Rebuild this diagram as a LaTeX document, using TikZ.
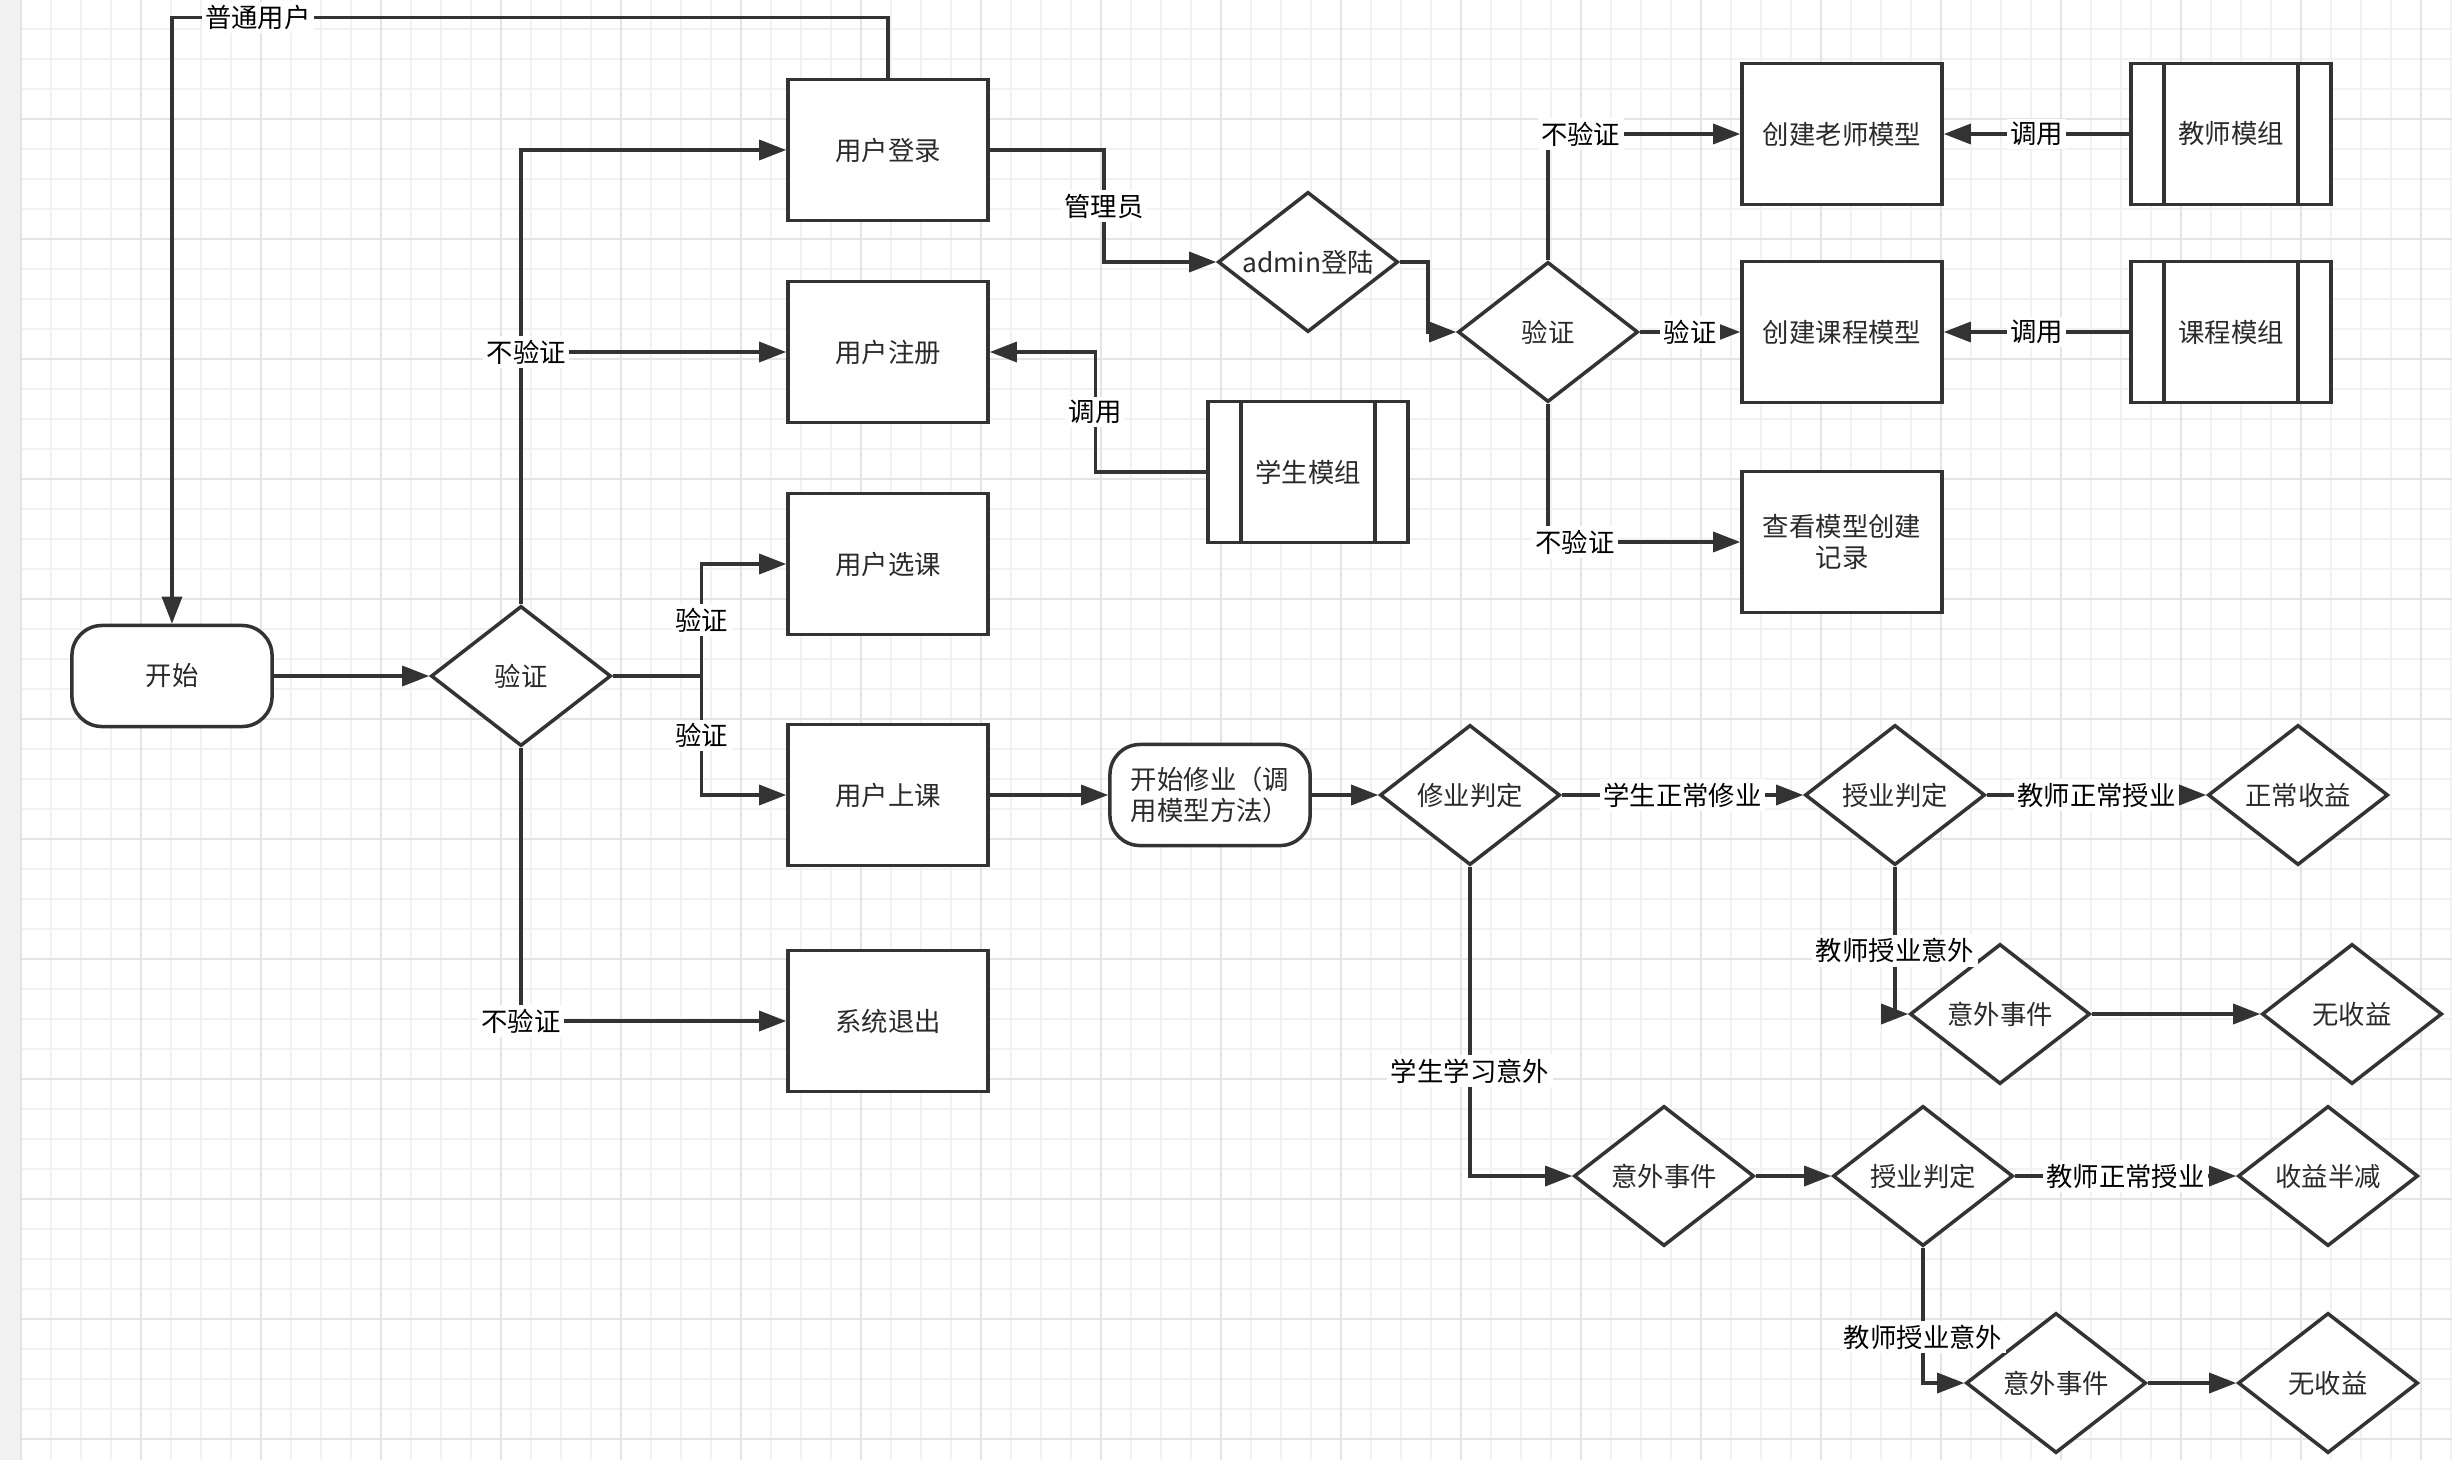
\documentclass[tikz,border=0pt]{standalone}
\usepackage{fontspec}
\newfontfamily\cjkfont{Noto Sans CJK SC}
\usepackage{tikz}
\usetikzlibrary{arrows.meta,shapes.geometric}
\definecolor{FlowInk}{HTML}{333333}
\definecolor{FlowText}{HTML}{2A2A2A}
\definecolor{GridMinor}{HTML}{F2F2F2}
\definecolor{GridMajor}{HTML}{E4E4E4}
\definecolor{PageStrip}{HTML}{F1F1F1}
\tikzset{
  figtext/.style={font={\cjkfont\fontsize{7.5}{8.8}\selectfont}, text=FlowText},
  flowbox/.style={draw=FlowInk, line width=1pt, fill=white, minimum width=2cm, minimum height=1.41cm, inner sep=1pt, align=center},
  termbox/.style={flowbox, rounded corners=0.3cm, minimum height=1.01cm},
  modbox/.style={flowbox, path picture={
    \draw[FlowInk, line width=1pt] ([xshift=0.33cm]path picture bounding box.north west) -- ([xshift=0.33cm]path picture bounding box.south west)
      ([xshift=-0.33cm]path picture bounding box.north east) -- ([xshift=-0.33cm]path picture bounding box.south east);}},
  choice/.style={diamond, aspect=1.3, draw=FlowInk, line width=1pt, fill=white, minimum width=1.8cm, minimum height=1.4cm, inner sep=1pt},
  flowarrow/.style={-{Triangle[length=0.27cm,width=0.2cm]}, line width=0.95pt, draw=FlowInk},
  edgetag/.style={fill=white, inner sep=1pt, text=black},
  gridminor/.style={draw=GridMinor, line width=0.6pt},
  gridmajor/.style={draw=GridMajor, line width=0.8pt}
}
\begin{document}
\begin{tikzpicture}[x=0.01cm, y=-0.01cm, every node/.style={figtext}]
\useasboundingbox (0,0) rectangle (2452,1460);
\fill[white] (0,0) rectangle (2452,1460);
\foreach \gx in {21,51,...,2451} \draw[gridminor] (\gx,0) -- (\gx,1460);
\foreach \gy in {29,59,...,1459} \draw[gridminor] (20,\gy) -- (2452,\gy);
\foreach \gx in {21,141,...,2421} \draw[gridmajor] (\gx,0) -- (\gx,1460);
\foreach \gy in {119,239,...,1439} \draw[gridmajor] (20,\gy) -- (2452,\gy);
\fill[PageStrip] (0,0) rectangle (20,1460);

\node[termbox] (start) at (172,676) {开始};
\node[choice] (chk) at (521,676) {验证};
\node[flowbox] (login) at (888,150) {用户登录};
\node[flowbox] (reg) at (888,352) {用户注册};
\node[flowbox] (sel) at (888,564) {用户选课};
\node[flowbox] (class) at (888,795) {用户上课};
\node[flowbox] (quit) at (888,1021) {系统退出};
\node[choice] (admin) at (1308,262) {admin登陆};
\node[modbox] (smod) at (1308,472) {学生模组};
\node[choice] (chk2) at (1548,332) {验证};
\node[flowbox] (tch) at (1842,134) {创建老师模型};
\node[flowbox] (crs) at (1842,332) {创建课程模型};
\node[flowbox] (rec) at (1842,542) {查看模型创建\\记录};
\node[modbox] (tmod) at (2231,134) {教师模组};
\node[modbox] (cmod) at (2231,332) {课程模组};
\node[termbox] (study) at (1210,795) {开始修业（调\\用模型方法）};
\node[choice] (jud) at (1470,795) {修业判定};
\node[choice] (tj1) at (1895,795) {授业判定};
\node[choice] (ok) at (2298,795) {正常收益};
\node[choice] (acc1) at (2000,1014) {意外事件};
\node[choice] (none1) at (2352,1014) {无收益};
\node[choice] (acc2) at (1664,1176) {意外事件};
\node[choice] (tj2) at (1923,1176) {授业判定};
\node[choice] (half) at (2328,1176) {收益半减};
\node[choice] (acc3) at (2056,1383) {意外事件};
\node[choice] (none2) at (2328,1383) {无收益};

\draw[flowarrow] (start) -- (chk);
\draw[flowarrow] (chk.north) |- (login.west);
\draw[flowarrow] (chk.north) |- node[edgetag, pos=0.51] {不验证} (reg.west);
\draw[flowarrow] (chk.east) -- ++(89,0) |- node[edgetag, pos=0.25] {验证} (sel.west);
\draw[flowarrow] (chk.east) -- ++(89,0) |- node[edgetag, pos=0.25] {验证} (class.west);
\draw[flowarrow] (chk.south) |- node[edgetag] {不验证} (quit.west);
\draw[flowarrow] (login.north) -- ++(0,-60) -| node[edgetag, pos=0.44] {普通用户} (start.north);
\draw[flowarrow] (login.east) -- ++(114,0) |- node[edgetag, pos=0.25] {管理员} (admin.west);
\draw[flowarrow] (admin.east) -- ++(28,0) |- (chk2.west);
\draw[flowarrow] (chk2.north) |- node[edgetag, pos=0.585] {不验证} (tch.west);
\draw[flowarrow] (chk2) -- node[edgetag] {验证} (crs);
\draw[flowarrow] (chk2.south) |- node[edgetag, pos=0.57] {不验证} (rec.west);
\draw[flowarrow] (tmod) -- node[edgetag] {调用} (tch);
\draw[flowarrow] (cmod) -- node[edgetag] {调用} (crs);
\draw[flowarrow] (smod.west) -- ++(-111,0) |- node[edgetag, pos=0.25] {调用} (reg.east);
\draw[flowarrow] (class) -- (study);
\draw[flowarrow] (study) -- (jud);
\draw[flowarrow] (jud) -- node[edgetag] {学生正常修业} (tj1);
\draw[flowarrow] (tj1) -- node[edgetag] {教师正常授业} (ok);
\draw[flowarrow] (tj1.south) |- node[edgetag, pos=0.285] {教师授业意外} (acc1.west);
\draw[flowarrow] (acc1) -- (none1);
\draw[flowarrow] (jud.south) |- node[edgetag, pos=0.33] {学生学习意外} (acc2.west);
\draw[flowarrow] (acc2) -- (tj2);
\draw[flowarrow] (tj2) -- node[edgetag] {教师正常授业} (half);
\draw[flowarrow] (tj2.south) |- node[edgetag, pos=0.33] {教师授业意外} (acc3.west);
\draw[flowarrow] (acc3) -- (none2);
\end{tikzpicture}
\end{document}
